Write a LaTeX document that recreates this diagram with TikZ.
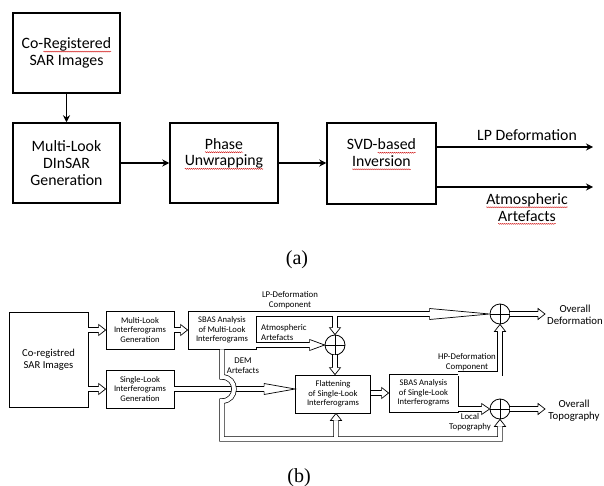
\documentclass[tikz,border=0pt]{standalone}
\usepackage{fontspec}
\setmainfont{Carlito}
\newfontfamily\seriffont{Liberation Serif}
\usetikzlibrary{calc,arrows.meta,decorations.pathmorphing}
\newcommand\rw[1]{\tikz[baseline=(wq.base),x=1pt,y=1pt]{\node[inner sep=0pt,outer sep=0pt,draw=none,minimum size=0pt] (wq) {#1};\draw[red!80!black,line width=0.35pt,decorate,decoration={snake,amplitude=0.55pt,segment length=2pt}] ([yshift=-2.8pt]wq.base west) -- ([yshift=-2.8pt]wq.base east);}}
\begin{document}
\begin{tikzpicture}[x=1pt,y=-1pt,
  abox/.style={draw, line width=1.5pt, align=center, font=\fontsize{15.8}{16.6}\selectfont, inner sep=0pt},
  afont/.style={font=\fontsize{15.8}{16.6}\selectfont},
  aarr/.style={line width=1.5pt, -{Stealth[length=7pt,width=7pt]}},
  bbox/.style={draw, line width=0.8pt, align=center, font=\fontsize{8.6}{9.7}\selectfont, inner sep=0pt},
  blab/.style={align=center, font=\fontsize{8.8}{10}\selectfont, inner sep=0pt},
  dbl/.style={double, double distance=4pt, line width=0.7pt},
  sumnode/.style={circle, draw, line width=0.8pt, minimum size=20pt, inner sep=0pt,
    path picture={\draw[line width=0.7pt] (path picture bounding box.north) -- (path picture bounding box.south) (path picture bounding box.west) -- (path picture bounding box.east);}},
  pics/lh/.style={code={\filldraw[fill=white, line width=0.7pt] (-#1,2.35) -- (-#1,5.5) -- (0,0) -- (-#1,-5.5) -- (-#1,-2.35);}},
]
\useasboundingbox (0,0) rectangle (604,486);

% ---------- (a) ----------
\node[abox, minimum width=107pt, minimum height=80pt] (creg) at (66.5,53) {Co-\rw{Registered}\\SAR Images};
\node[abox, minimum width=107pt, minimum height=80pt] (ml) at (66.5,163) {Multi-Look\\DInSAR\\Generation};
\node[abox, minimum width=108pt, minimum height=80pt] (ph) at (224,163) {\rw{Phase}\\\rw{Unwrapping}\\\strut};
\node[abox, minimum width=109pt, minimum height=81pt] (svd) at (381.5,163.5) {SVD-\rw{based}\\\rw{Inversion}\\\strut};
\coordinate (lpend) at (593,147);
\coordinate (atend) at (593,187);
\draw[aarr] (creg) -- (ml);
\draw[aarr] (ml.east) -- (ml.east -| ph.west);
\draw[aarr] (ph.east) -- (ph.east -| svd.west);
\draw[aarr] (svd.east |- lpend) -- (lpend);
\draw[aarr] (svd.east |- atend) -- (atend);
\node[afont] (lplab) at (527,135) {LP Deformation};
\node[afont, align=center] (atlab) at (527,209) {\rw{Atmospheric}\\\rw{Artefacts}};
\node[font=\seriffont\fontsize{20}{24}\selectfont] (la) at (297,260) {(a)};

% ---------- (b) ----------
\node[bbox, minimum width=79pt, minimum height=95pt, font=\fontsize{10.6}{12.2}\selectfont] (coreg) at (48.5,359.5) {Co-registred\\SAR Images};
\node[bbox, minimum width=68pt, minimum height=38pt] (mlig) at (140,330) {Multi-Look\\Interferograms\\Generation};
\node[bbox, minimum width=68pt, minimum height=38pt] (slig) at (140,389) {Single-Look\\Interferograms\\Generation};
\node[bbox, minimum width=68pt, minimum height=38pt] (sbasml) at (222,330) {SBAS Analysis\\of Multi-Look\\Interferograms};
\node[bbox, minimum width=75pt, minimum height=38pt] (flat) at (333,394) {Flattening\\of Single-Look\\Interferograms};
\node[bbox, minimum width=69pt, minimum height=38pt] (sbassl) at (423.5,393) {SBAS Analysis\\of Single-Look\\Interferograms};
\node[sumnode] (atm) at (335,345) {};
\node[sumnode] (top) at (500,314) {};
\node[sumnode] (bot) at (500,409) {};

% inputs
\draw[dbl] (coreg.east |- mlig.west) -- ($(mlig.west)+(-7,0)$);
\pic at (mlig.west) {lh=7};
\draw[dbl] (mlig.east) -- ($(sbasml.west)+(-7,0)$);
\pic at (sbasml.west) {lh=7};
\draw[dbl] (coreg.east |- slig.west) -- ($(slig.west)+(-7,0)$);
\pic at (slig.west) {lh=7};

% single-look to flattening
\coordinate (sltip) at (flat.west |- slig.east);
\draw[dbl] (slig.east) -- ($(sltip)+(-31,0)$);
\pic at (sltip) {lh=31};

% DEM artefacts path with bridge
\coordinate (dem0) at (sbasml.south);
\coordinate (bl) at (222,439);
\coordinate (fb) at ($(flat.south)+(3,0)$);
\draw[dbl] (dem0) -- ($(dem0 |- slig.east)+(0,-12)$)
   .. controls +(16,0) and +(16,0) .. ($(dem0 |- slig.east)+(0,12)$)
   -- (dem0 |- bl) -- (bot.south |- bl) -- ($(bot.south)+(0,7)$)
   (fb |- bl) -- ($(fb)+(0,7)$);
\pic[rotate=90] at (fb) {lh=7};
\pic[rotate=90] at (bot.south) {lh=7};

% LP deformation component
\coordinate (lp0) at (sbasml.east |- top.west);
\coordinate (lpb) at (atm.north |- top.west);
\draw[dbl] (lp0) -- ($(top.west)+(-60,0)$) (lpb) -- ($(atm.north)+(0,-7)$);
\pic at (top.west) {lh=60};
\pic[rotate=-90] at (atm.north) {lh=7};

% atmospheric artefacts
\draw[dbl] (sbasml.east |- atm.west) -- ($(atm.west)+(-15,0)$);
\pic at (atm.west) {lh=15};

% sum -> flattening
\coordinate (fin) at (atm.south |- flat.north);
\draw[dbl] (atm.south) -- ($(fin)+(0,-7)$);
\pic[rotate=-90] at (fin) {lh=7};

% flattening -> SBAS SL
\draw[dbl] (flat.east |- sbassl.west) -- ($(sbassl.west)+(-7,0)$);
\pic at (sbassl.west) {lh=7};

% HP deformation
\draw[dbl] (sbassl.north east) -- (sbassl.north east -| top.south) -- ($(top.south)+(0,7)$);
\pic[rotate=90] at (top.south) {lh=7};

% local topography
\draw[dbl] (sbassl.east |- bot.west) -- ($(bot.west)+(-8,0)$);
\pic at (bot.west) {lh=8};

% outputs
\coordinate (outD) at (545,314);
\coordinate (outT) at (545,409);
\draw[dbl] (top.east) -- ($(outD)+(-7,0)$);
\pic at (outD) {lh=7};
\draw[dbl] (bot.east) -- ($(outT)+(-7,0)$);
\pic at (outT) {lh=7};

% labels
\node[blab] (lplabb) at (290,300.5) {LP-Deformation\\Component};
\node[blab, align=left, anchor=west] (atlabb) at (261,332) {Atmospheric\\Artefacts};
\node[blab] (demlab) at (243,366) {DEM\\Artefacts};
\node[blab] (hplab) at (467,362) {HP-Deformation\\Component};
\node[blab] (loclab) at (470,422.5) {Local\\Topography};
\node[align=center, inner sep=0pt, font=\fontsize{10.8}{12}\selectfont] (odef) at (575,315) {Overall\\Deformation};
\node[align=center, inner sep=0pt, font=\fontsize{10.8}{12}\selectfont] (otop) at (574,411) {Overall\\Topography};
\node[font=\seriffont\fontsize{20}{24}\selectfont] (lbl) at (299,478) {(b)};
\end{tikzpicture}
\end{document}
